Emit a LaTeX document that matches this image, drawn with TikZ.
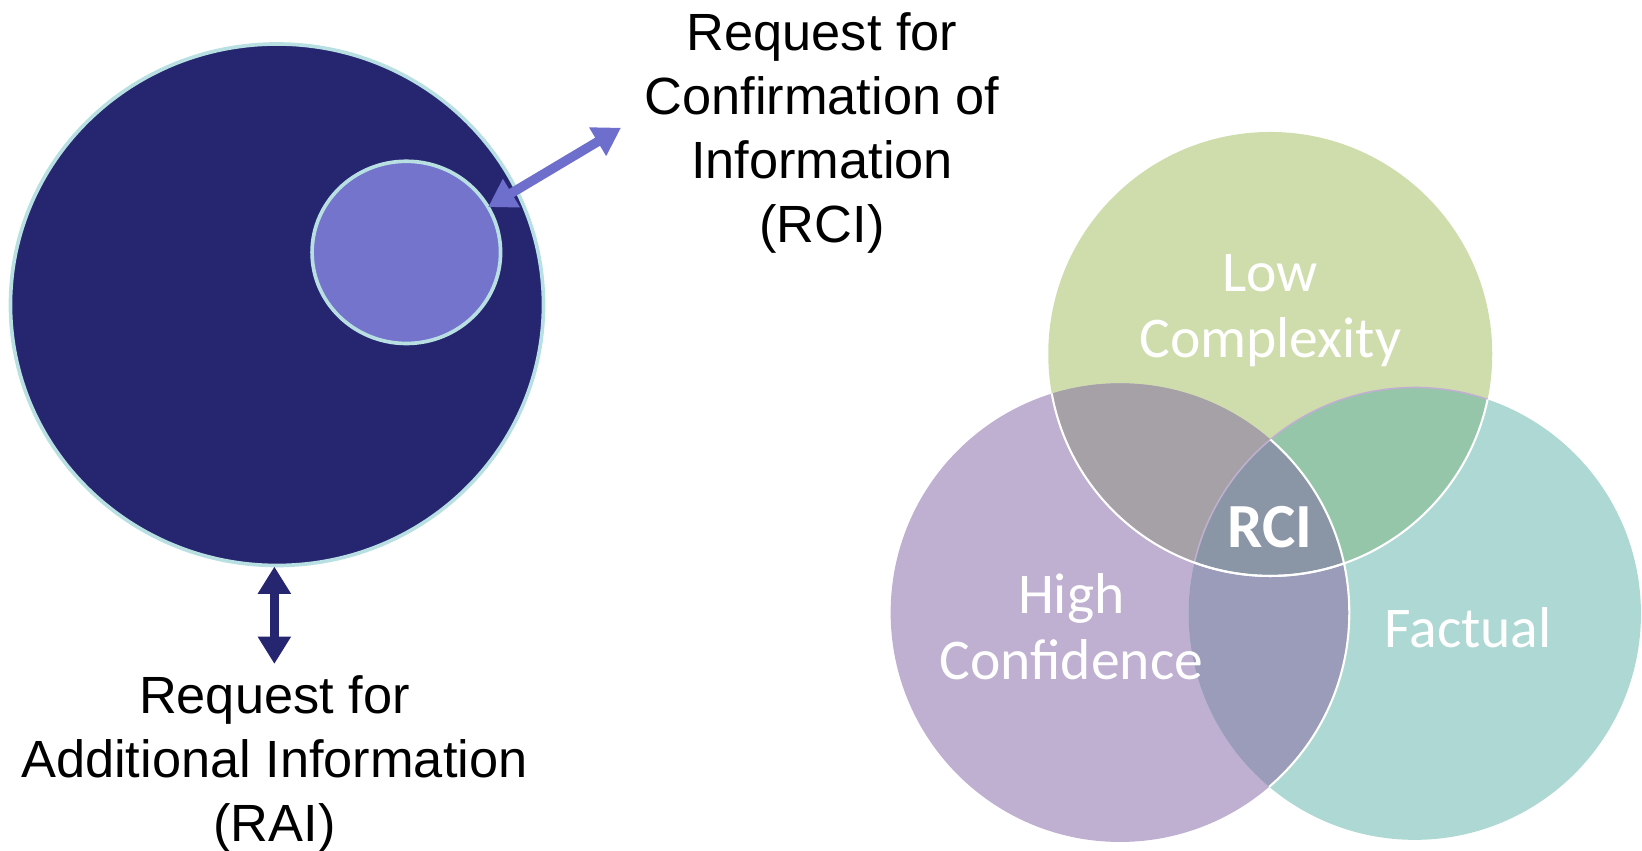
\documentclass[tikz,border=0pt]{standalone}
\usepackage{fontspec}
\setmainfont{Liberation Sans}
\newfontfamily\calib{Carlito}
\usetikzlibrary{arrows.meta,shapes.geometric}
\definecolor{navy}{HTML}{262670}
\definecolor{lav}{HTML}{7474CD}
\definecolor{rim}{HTML}{B8E0E3}
\definecolor{arrowlav}{HTML}{6E6ECC}
\definecolor{cgreen}{HTML}{CFDDAD}
\definecolor{cpurple}{HTML}{BFAFD0}
\definecolor{cteal}{HTML}{AED8D3}
\definecolor{cgp}{HTML}{A6A0A7}
\definecolor{cgt}{HTML}{95C6A9}
\definecolor{cpt}{HTML}{9A9CBA}
\definecolor{call}{HTML}{8A95A5}
\tikzset{
  blob/.style={ellipse, draw=rim, line width=3.5pt, inner sep=0pt, outer sep=0pt},
  dblarrow/.style={line width=9pt, {Triangle[width=30pt,length=26pt]}-{Triangle[width=30pt,length=26pt]}},
  label/.style={align=center, inner sep=0pt, font=\fontsize{50}{61}\selectfont},
  vlabel/.style={align=center, inner sep=0pt, text=white, font=\calib\fontsize{55}{63}\selectfont},
}
\begin{document}
\begin{tikzpicture}[x=1pt,y=-1pt]
\useasboundingbox (0,0) rectangle (1568,812);
% left diagram
\node[blob, fill=navy, minimum width=509pt, minimum height=498pt] (big) at (264.5,291) {};
\node[blob, fill=lav, minimum width=180pt, minimum height=174pt] (small) at (388,241) {};
\coordinate (rcitip) at (593,122);
\coordinate (raistart) at (262,541);
\coordinate (raitip) at (262,634);
\draw[dblarrow, arrowlav] (small.29) -- (rcitip);
\draw[dblarrow, navy] (raistart) -- (raitip);
\node[label, anchor=north] (rcitext) at (785,12) {Request for\\Confirmation of\\Information\\(RCI)};
\node[label, anchor=north] (raitext) at (262,645) {Request for\\Additional Information\\(RAI)};
% Venn
\coordinate (G) at (1213,338);
\coordinate (P) at (1069.5,585);
\coordinate (T) at (1351,586);
\def\rg{212pt}
\def\rp{219pt}
\def\rt{216pt}
\fill[cgreen] (G) circle (\rg);
\fill[cpurple] (P) circle (\rp);
\fill[cteal] (T) circle (\rt);
\begin{scope}\clip (G) circle (\rg); \fill[cgp] (P) circle (\rp); \fill[cgt] (T) circle (\rt);\end{scope}
\begin{scope}\clip (P) circle (\rp); \fill[cpt] (T) circle (\rt);\end{scope}
\begin{scope}\clip (G) circle (\rg); \clip (P) circle (\rp); \fill[call] (T) circle (\rt);\end{scope}
\begin{scope}\clip (G) circle (\rg); \draw[cpurple, line width=1.5pt] (T) circle (\rt);\end{scope}
\begin{scope}\clip (T) circle (\rt); \draw[white, line width=2pt] (P) circle (\rp); \draw[white, line width=2pt] (G) circle (\rg);\end{scope}
\begin{scope}\clip (P) circle (\rp); \draw[white, line width=2pt] (G) circle (\rg);\end{scope}
\node[vlabel] (low) at (1213,297) {Low\\Complexity};
\node[vlabel] (high) at (1023,598) {High\\Confidence};
\node[vlabel] (fact) at (1402,599) {Factual};
\node[vlabel, font=\calib\bfseries\fontsize{60}{63}\selectfont] (rci) at (1213,503) {RCI};
\end{tikzpicture}
\end{document}
